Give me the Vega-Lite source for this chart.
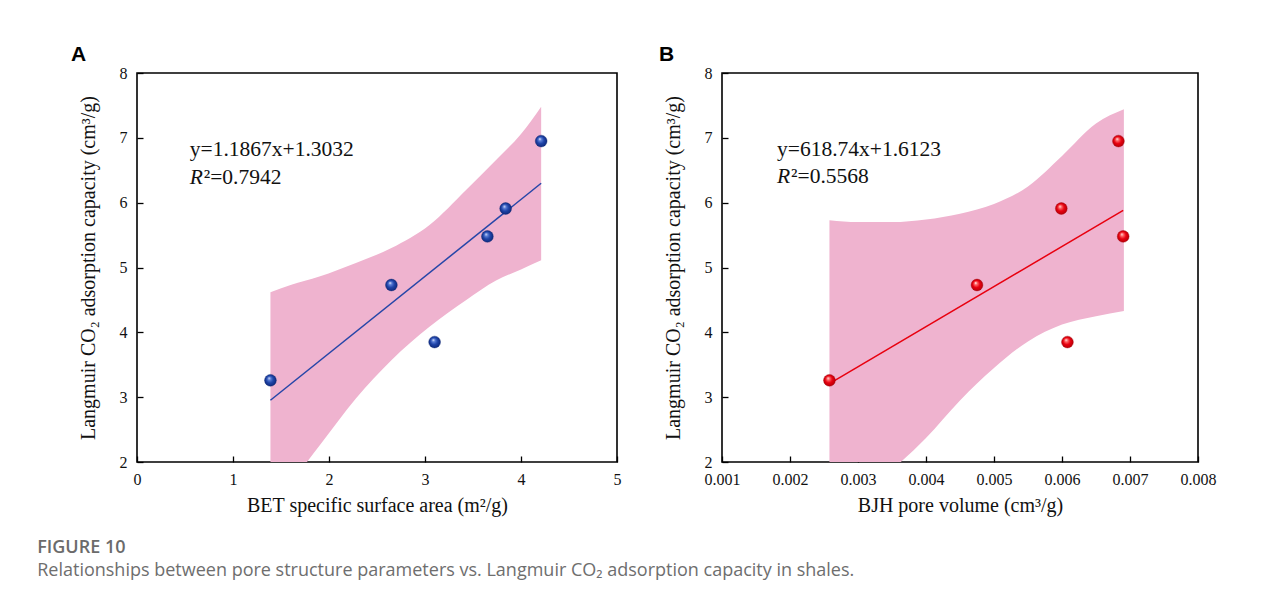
{
  "$schema": "https://vega.github.io/schema/vega-lite/v6.json",
  "background": "white",
  "padding": {"left": 37, "top": 43, "right": 10, "bottom": 10},
  "spacing": 105,
  "bounds": "flush",
  "config": {
    "font": "Liberation Serif",
    "view": {"stroke": "#000000", "strokeWidth": 1.6},
    "axis": {
      "grid": false,
      "domain": false,
      "tickColor": "#000000",
      "tickWidth": 1.3,
      "tickSize": -6,
      "labelFont": "Liberation Serif",
      "labelFontSize": 16,
      "labelColor": "#111111",
      "titleFont": "Liberation Serif",
      "titleFontSize": 20,
      "titleFontWeight": "normal",
      "titleColor": "#111111"
    },
    "axisX": {"labelPadding": 15, "titlePadding": 8, "labelFlush": false},
    "axisY": {"labelPadding": 16, "titlePadding": 21},
    "title": {"font": "Liberation Sans", "fontSize": 21, "fontWeight": "bold", "color": "#000000", "anchor": "start"}
  },
  "datasets": {
    "bet": [
      {"area": 1.39, "capacity": 3.26},
      {"area": 2.65, "capacity": 4.73},
      {"area": 3.10, "capacity": 3.85},
      {"area": 3.65, "capacity": 5.48},
      {"area": 3.84, "capacity": 5.91},
      {"area": 4.21, "capacity": 6.95}
    ],
    "betFit": [
      {"area": 1.39, "capacity": 2.953},
      {"area": 4.21, "capacity": 6.299}
    ],
    "betBand": [
      {"area": 1.39, "lower": 1.27, "upper": 4.62},
      {"area": 1.6, "lower": 1.67, "upper": 4.73},
      {"area": 1.9, "lower": 2.25, "upper": 4.86},
      {"area": 2.28, "lower": 2.98, "upper": 5.07},
      {"area": 2.65, "lower": 3.57, "upper": 5.3},
      {"area": 3.05, "lower": 4.09, "upper": 5.66},
      {"area": 3.43, "lower": 4.5, "upper": 6.2},
      {"area": 3.74, "lower": 4.8, "upper": 6.66},
      {"area": 4.0, "lower": 4.97, "upper": 7.06},
      {"area": 4.21, "lower": 5.11, "upper": 7.48}
    ],
    "betNote": [
      {"area": 0.55, "capacity": 6.81, "eq": "y=1.1867x+1.3032", "r": "R", "r2": "²=0.7942", "capacity2": 6.38}
    ],
    "bjh": [
      {"volume": 0.00258, "capacity": 3.26},
      {"volume": 0.00475, "capacity": 4.73},
      {"volume": 0.00599, "capacity": 5.91},
      {"volume": 0.00608, "capacity": 3.85},
      {"volume": 0.00683, "capacity": 6.95},
      {"volume": 0.00690, "capacity": 5.48}
    ],
    "bjhFit": [
      {"volume": 0.00258, "capacity": 3.209},
      {"volume": 0.00690, "capacity": 5.881}
    ],
    "bjhBand": [
      {"volume": 0.00258, "lower": 0.95, "upper": 5.73},
      {"volume": 0.003, "lower": 1.45, "upper": 5.7},
      {"volume": 0.0035, "lower": 1.88, "upper": 5.7},
      {"volume": 0.004, "lower": 2.37, "upper": 5.74},
      {"volume": 0.0045, "lower": 2.95, "upper": 5.83},
      {"volume": 0.005, "lower": 3.45, "upper": 5.98},
      {"volume": 0.0055, "lower": 3.86, "upper": 6.25},
      {"volume": 0.006, "lower": 4.12, "upper": 6.72},
      {"volume": 0.0065, "lower": 4.25, "upper": 7.22},
      {"volume": 0.00691, "lower": 4.33, "upper": 7.44}
    ],
    "bjhNote": [
      {"volume": 0.00181, "capacity": 6.81, "eq": "y=618.74x+1.6123", "r": "R", "r2": "²=0.5568", "capacity2": 6.4}
    ]
  },
  "title": {
    "text": "FIGURE 10",
    "subtitle": "Relationships between pore structure parameters vs. Langmuir CO₂ adsorption capacity in shales.",
    "orient": "bottom",
    "anchor": "start",
    "font": "Open Sans",
    "fontSize": 18,
    "fontWeight": 600,
    "color": "#6b6b6b",
    "subtitleFont": "Open Sans",
    "subtitleFontSize": 18,
    "subtitleColor": "#6e6e6e",
    "subtitlePadding": 5,
    "offset": 23,
    "dx": -33
  },
  "hconcat": [
    {
      "title": {"text": "A", "dx": -7, "offset": 0},
      "width": 480,
      "height": 389,
      "layer": [
        {
          "data": {"name": "betBand"},
          "mark": {"type": "area", "color": "#efb3cf", "opacity": 1, "interpolate": "monotone", "clip": true},
          "encoding": {
            "x": {"field": "area", "type": "quantitative", "scale": {"domain": [0, 5], "nice": false}, "axis": {"title": "BET specific surface area (m²/g)", "values": [0, 1, 2, 3, 4, 5], "format": "d"}},
            "y": {"field": "upper", "type": "quantitative", "scale": {"domain": [2, 8], "nice": false}, "axis": {"title": "Langmuir CO₂ adsorption capacity (cm³/g)", "values": [2, 3, 4, 5, 6, 7, 8], "format": "d"}},
            "y2": {"field": "lower"}
          }
        },
        {
          "data": {"name": "betFit"},
          "mark": {"type": "line", "color": "#2646a8", "strokeWidth": 1.5},
          "encoding": {
            "x": {"field": "area", "type": "quantitative"},
            "y": {"field": "capacity", "type": "quantitative"}
          }
        },
        {
          "data": {"name": "bet"},
          "mark": {
            "type": "point", "filled": true, "size": 140, "opacity": 1, "stroke": "#0b2370", "strokeWidth": 0.4,
            "fill": {"gradient": "radial", "x1": 0.38, "y1": 0.32, "r1": 0, "x2": 0.5, "y2": 0.5, "r2": 0.55,
              "stops": [{"offset": 0, "color": "#ffffff"}, {"offset": 0.22, "color": "#5d80d8"}, {"offset": 0.55, "color": "#1f44a8"}, {"offset": 1, "color": "#0c2677"}]}
          },
          "encoding": {
            "x": {"field": "area", "type": "quantitative"},
            "y": {"field": "capacity", "type": "quantitative"}
          }
        },
        {
          "data": {"name": "betNote"},
          "mark": {"type": "text", "align": "left", "baseline": "middle", "font": "Liberation Serif", "fontSize": 21.5, "color": "#111111"},
          "encoding": {
            "x": {"field": "area", "type": "quantitative"},
            "y": {"field": "capacity", "type": "quantitative"},
            "text": {"field": "eq"}
          }
        },
        {
          "data": {"name": "betNote"},
          "mark": {"type": "text", "align": "left", "baseline": "middle", "font": "Liberation Serif", "fontSize": 21.5, "fontStyle": "italic", "color": "#111111"},
          "encoding": {
            "x": {"field": "area", "type": "quantitative"},
            "y": {"field": "capacity2", "type": "quantitative"},
            "text": {"field": "r"}
          }
        },
        {
          "data": {"name": "betNote"},
          "mark": {"type": "text", "align": "left", "baseline": "middle", "font": "Liberation Serif", "fontSize": 21.5, "color": "#111111", "dx": 14},
          "encoding": {
            "x": {"field": "area", "type": "quantitative"},
            "y": {"field": "capacity2", "type": "quantitative"},
            "text": {"field": "r2"}
          }
        }
      ]
    },
    {
      "title": {"text": "B", "dx": -4, "offset": 0},
      "width": 476,
      "height": 389,
      "layer": [
        {
          "data": {"name": "bjhBand"},
          "mark": {"type": "area", "color": "#efb3cf", "opacity": 1, "interpolate": "monotone", "clip": true},
          "encoding": {
            "x": {"field": "volume", "type": "quantitative", "scale": {"domain": [0.001, 0.008], "nice": false, "zero": false}, "axis": {"title": "BJH pore volume (cm³/g)", "values": [0.001, 0.002, 0.003, 0.004, 0.005, 0.006, 0.007, 0.008], "format": ".3f"}},
            "y": {"field": "upper", "type": "quantitative", "scale": {"domain": [2, 8], "nice": false}, "axis": {"title": "Langmuir CO₂ adsorption capacity (cm³/g)", "values": [2, 3, 4, 5, 6, 7, 8], "format": "d"}},
            "y2": {"field": "lower"}
          }
        },
        {
          "data": {"name": "bjhFit"},
          "mark": {"type": "line", "color": "#e8000f", "strokeWidth": 1.5},
          "encoding": {
            "x": {"field": "volume", "type": "quantitative"},
            "y": {"field": "capacity", "type": "quantitative"}
          }
        },
        {
          "data": {"name": "bjh"},
          "mark": {
            "type": "point", "filled": true, "size": 140, "opacity": 1, "stroke": "#a00008", "strokeWidth": 0.4,
            "fill": {"gradient": "radial", "x1": 0.38, "y1": 0.32, "r1": 0, "x2": 0.5, "y2": 0.5, "r2": 0.55,
              "stops": [{"offset": 0, "color": "#ffffff"}, {"offset": 0.22, "color": "#ff6a6a"}, {"offset": 0.55, "color": "#e8000f"}, {"offset": 1, "color": "#b00008"}]}
          },
          "encoding": {
            "x": {"field": "volume", "type": "quantitative"},
            "y": {"field": "capacity", "type": "quantitative"}
          }
        },
        {
          "data": {"name": "bjhNote"},
          "mark": {"type": "text", "align": "left", "baseline": "middle", "font": "Liberation Serif", "fontSize": 21.5, "color": "#111111"},
          "encoding": {
            "x": {"field": "volume", "type": "quantitative"},
            "y": {"field": "capacity", "type": "quantitative"},
            "text": {"field": "eq"}
          }
        },
        {
          "data": {"name": "bjhNote"},
          "mark": {"type": "text", "align": "left", "baseline": "middle", "font": "Liberation Serif", "fontSize": 21.5, "fontStyle": "italic", "color": "#111111"},
          "encoding": {
            "x": {"field": "volume", "type": "quantitative"},
            "y": {"field": "capacity2", "type": "quantitative"},
            "text": {"field": "r"}
          }
        },
        {
          "data": {"name": "bjhNote"},
          "mark": {"type": "text", "align": "left", "baseline": "middle", "font": "Liberation Serif", "fontSize": 21.5, "color": "#111111", "dx": 14},
          "encoding": {
            "x": {"field": "volume", "type": "quantitative"},
            "y": {"field": "capacity2", "type": "quantitative"},
            "text": {"field": "r2"}
          }
        }
      ]
    }
  ]
}
